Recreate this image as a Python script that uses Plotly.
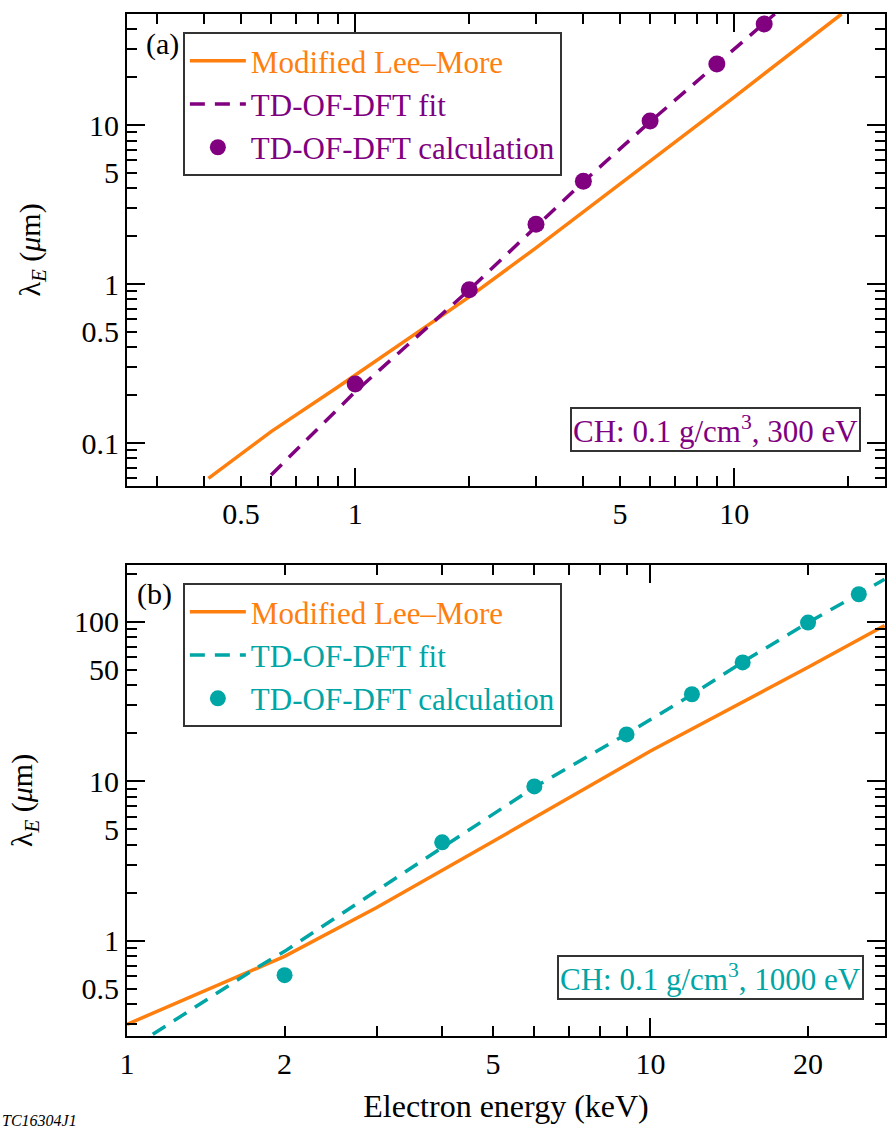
import plotly.graph_objects as go
import math

# ---------------- data ----------------
# Panel (a): CH 0.1 g/cm3, 300 eV
a_lm_x = [0.41, 0.6, 0.9, 1.3, 2.0, 3.0, 10.0, 19.2]
a_lm_y = [0.060, 0.118, 0.225, 0.41, 0.83, 1.69, 15.0, 50.0]
a_fit_x = [0.6, 1.0, 2.0, 3.0, 4.0, 6.0, 9.0, 12.8]
a_fit_y = [0.063, 0.21, 0.92, 2.3, 4.4, 10.5, 24.0, 50.0]
a_calc_x = [1, 2, 3, 4, 6, 9, 12]
a_calc_y = [0.235, 0.92, 2.38, 4.44, 10.6, 24.2, 43.2]

# Panel (b): CH 0.1 g/cm3, 1000 eV
b_lm_x = [1.0, 1.77, 2.0, 3.0, 3.73, 5.0, 10.0, 20.0, 28.0]
b_lm_y = [0.30, 0.68, 0.80, 1.62, 2.43, 4.2, 15.5, 52.0, 95.0]
b_fit_x = [1.12, 1.77, 2.0, 3.0, 4.0, 6.0, 9.0, 12.0, 15.0, 20.0, 25.0, 28.0]
b_fit_y = [0.26, 0.68, 0.86, 2.05, 3.85, 9.2, 19.8, 35.0, 56.0, 99.0, 150.0, 185.0]
b_calc_x = [2, 4, 6, 9, 12, 15, 20, 25]
b_calc_y = [0.61, 4.15, 9.3, 19.7, 35.2, 55.7, 99.0, 149.0]

# tick labels
a_xtick_vals = [0.5, 1, 5, 10]
a_xtick_text = ["0.5", "1", "5", "10"]
a_ytick_vals = [0.1, 0.5, 1, 5, 10, 50]
a_ytick_text = ["0.1", "0.5", "1", "5", "10", "50"]
b_xtick_vals = [1, 2, 5, 10, 20]
b_xtick_text = ["1", "2", "5", "10", "20"]
b_ytick_vals = [0.5, 1, 5, 10, 50, 100]
b_ytick_text = ["0.5", "1", "5", "10", "50", "100"]

ORANGE = "#ff7f0e"
PURPLE = "#800080"
TEAL = "#00a5a5"
FONT = "'Liberation Serif', 'Times New Roman', Times, 'DejaVu Serif', serif"

def minor_vals(lo, hi, skip):
    out = []
    for e in range(-3, 4):
        for m in range(1, 10):
            v = round(m * 10 ** e, 6)
            if lo <= v <= hi and v not in skip:
                out.append(v)
    return out

fig = go.Figure()

# ---------------- panel (a) ----------------
fig.add_trace(go.Scatter(x=a_lm_x, y=a_lm_y, mode="lines",
                         line=dict(color=ORANGE, width=3.5),
                         name=f'<span style="color:{ORANGE}">Modified Lee–More</span>',
                         legend="legend", xaxis="x", yaxis="y"))
fig.add_trace(go.Scatter(x=a_fit_x, y=a_fit_y, mode="lines",
                         line=dict(color=PURPLE, width=3.5, dash="15px,10px"),
                         name=f'<span style="color:{PURPLE}">TD-OF-DFT fit</span>',
                         legend="legend", xaxis="x", yaxis="y"))
fig.add_trace(go.Scatter(x=a_calc_x, y=a_calc_y, mode="markers",
                         marker=dict(color=PURPLE, size=17),
                         name=f'<span style="color:{PURPLE}">TD-OF-DFT calculation</span>',
                         legend="legend", xaxis="x", yaxis="y"))

# ---------------- panel (b) ----------------
fig.add_trace(go.Scatter(x=b_lm_x, y=b_lm_y, mode="lines",
                         line=dict(color=ORANGE, width=3.5),
                         name=f'<span style="color:{ORANGE}">Modified Lee–More</span>',
                         legend="legend2", xaxis="x2", yaxis="y2"))
fig.add_trace(go.Scatter(x=b_fit_x, y=b_fit_y, mode="lines",
                         line=dict(color=TEAL, width=3.5, dash="15px,10px"),
                         name=f'<span style="color:{TEAL}">TD-OF-DFT fit</span>',
                         legend="legend2", xaxis="x2", yaxis="y2"))
fig.add_trace(go.Scatter(x=b_calc_x, y=b_calc_y, mode="markers",
                         marker=dict(color=TEAL, size=16),
                         name=f'<span style="color:{TEAL}">TD-OF-DFT calculation</span>',
                         legend="legend2", xaxis="x2", yaxis="y2"))

# empty helper traces so the overlay axes (long decade ticks) get drawn
for xa, ya in [("x3", "y"), ("x", "y3"), ("x4", "y2"), ("x2", "y4")]:
    fig.add_trace(go.Scatter(x=[], y=[], xaxis=xa, yaxis=ya, showlegend=False,
                             hoverinfo="skip"))

a_xr = [math.log10(0.25), math.log10(25)]
a_yr = [-1.27, math.log10(50)]
b_xr = [0, 1.448]
b_yr = [-0.596, 2.357]

TOP_DOM = [0.5382, 1.0]
BOT_DOM = [0.0, 0.4609]

tickfont = dict(family=FONT, size=30, color="black")

def main_axis(rng, domain, anchor, tvals, ttext, minor, **kw):
    return dict(type="log", range=rng, domain=domain, anchor=anchor,
                tickmode="array", tickvals=tvals, ticktext=ttext,
                ticks="inside", ticklen=10, tickwidth=2, tickcolor="black",
                showline=True, linecolor="black", linewidth=2, mirror="ticks",
                showgrid=False, zeroline=False, tickfont=tickfont,
                minor=dict(tickmode="array", tickvals=minor, ticks="inside",
                           ticklen=10, tickwidth=2, tickcolor="black", showgrid=False),
                **kw)

def long_axis(rng, overlaying, anchor, tvals, side):
    return dict(type="log", range=rng, overlaying=overlaying, anchor=anchor, side=side,
                tickmode="array", tickvals=tvals, showticklabels=False,
                ticks="inside", ticklen=18, tickwidth=2, tickcolor="black",
                showline=False, mirror="ticks", showgrid=False, zeroline=False)

a_xminor = minor_vals(0.25, 25, a_xtick_vals)
a_yminor = minor_vals(0.05, 50, a_ytick_vals)
b_xminor = minor_vals(1, 28, b_xtick_vals)
b_yminor = minor_vals(0.25, 228, b_ytick_vals)

ytitle = "λ<sub><i>E</i></sub> (<i>μ</i>m)"

legend_common = dict(xanchor="left", yanchor="top", bgcolor="white",
                     bordercolor="#333333", borderwidth=2,
                     font=dict(family=FONT, size=31), tracegroupgap=0,
                     itemwidth=56)

fig.update_layout(
    width=888, height=1132,
    margin=dict(l=127, r=1, t=14, b=96),
    plot_bgcolor="white", paper_bgcolor="white",
    font=dict(family=FONT, color="black"),
    xaxis=main_axis(a_xr, None, "y", a_xtick_vals, a_xtick_text, a_xminor),
    yaxis=main_axis(a_yr, TOP_DOM, "x", a_ytick_vals, a_ytick_text, a_yminor,
                    title=dict(text=ytitle, font=dict(family=FONT, size=30), standoff=32)),
    xaxis2=main_axis(b_xr, None, "y2", b_xtick_vals, b_xtick_text, b_xminor,
                     title=dict(text="Electron energy (keV)",
                                font=dict(family=FONT, size=32), standoff=16)),
    yaxis2=main_axis(b_yr, BOT_DOM, "x2", b_ytick_vals, b_ytick_text, b_yminor,
                     title=dict(text=ytitle, font=dict(family=FONT, size=30), standoff=32)),
    xaxis3=long_axis(a_xr, "x", "y", [1, 10], "bottom"),
    yaxis3=long_axis(a_yr, "y", "x", [0.1, 1, 10], "left"),
    xaxis4=long_axis(b_xr, "x2", "y2", [1, 10], "bottom"),
    yaxis4=long_axis(b_yr, "y2", "x2", [1, 10, 100], "left"),
    legend=dict(x=0.0737, y=0.9824, **legend_common),
    legend2=dict(x=0.0737, y=0.4432, **legend_common),
    showlegend=True,
)

fig.add_annotation(text="(a)", xref="paper", yref="paper", x=0.022, y=0.971,
                   xanchor="left", yanchor="middle", showarrow=False,
                   font=dict(family=FONT, size=30, color="black"))
fig.add_annotation(text="(b)", xref="paper", yref="paper", x=0.010, y=0.432,
                   xanchor="left", yanchor="middle", showarrow=False,
                   font=dict(family=FONT, size=30, color="black"))
fig.add_annotation(text="CH: 0.1 g/cm<sup>3</sup>, 300 eV", xref="paper", yref="paper",
                   x=0.968, y=0.5714, xanchor="right", yanchor="bottom", showarrow=False,
                   bordercolor="#333333", borderwidth=2, borderpad=1, bgcolor="white",
                   font=dict(family=FONT, size=31, color=PURPLE))
fig.add_annotation(text="CH: 0.1 g/cm<sup>3</sup>, 1000 eV", xref="paper", yref="paper",
                   x=0.972, y=0.0352, xanchor="right", yanchor="bottom", showarrow=False,
                   bordercolor="#333333", borderwidth=2, borderpad=1, bgcolor="white",
                   font=dict(family=FONT, size=31, color=TEAL))
fig.add_annotation(text="<i>TC16304J1</i>", xref="paper", yref="paper",
                   x=-0.167, y=-0.0930, xanchor="left", yanchor="bottom", showarrow=False,
                   font=dict(family=FONT, size=16, color="black"))

fig.write_html("out.html")
